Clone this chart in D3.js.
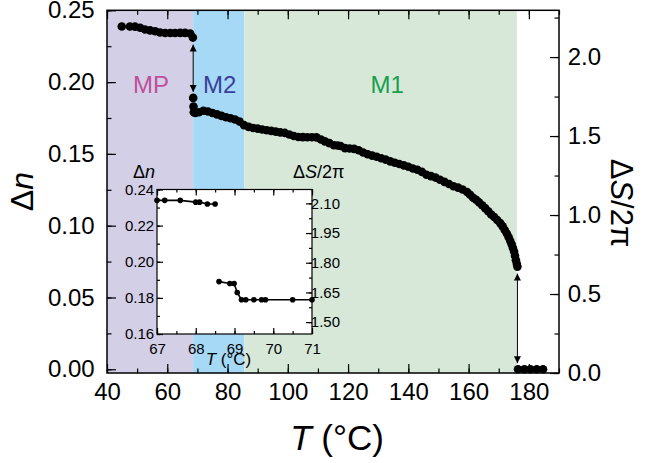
<!DOCTYPE html>
<html>
<head>
<meta charset="utf-8">
<script src="https://cdn.jsdelivr.net/npm/d3@7"></script>
<style>
  body { margin: 0; background: #fff; }
  text { font-family: 'Liberation Sans', Arial, sans-serif; fill: #000; }
</style>
</head>
<body>
<svg id="chart" width="648" height="463"></svg>
<script>
// phase bands (°C)
const phaseNames = ['MP', 'M2', 'M1'];
const phaseStart = [40, 68.6, 85.6];
const phaseEnd = [68.6, 85.6, 176];
const phaseFill = ['#d3cfe6', '#a6d9f5', '#d7e8d9'];
const phaseText = ['#c0509a', '#3a3f9a', '#18a04e'];

// main series: temperature and birefringence
const temps = [44.9, 47.6, 49.3, 51, 52.6, 54.3, 56, 57.6, 59.3, 61, 62.6, 64.3, 65.9, 67.6, 68.5,
  68.6, 68.7, 68.8, 69.3, 70.5, 72, 73.5, 75, 76.5, 78, 79.5, 81, 82.5, 84, 85.5, 87, 88.5,
  90, 91.5, 93, 94.5, 96, 97.5, 99, 100.5, 102, 103.5, 105, 106.5, 108, 109.5, 111, 112.3,
  113.8, 115.3, 116.5, 117.5, 119, 120.5, 122, 123.5, 125, 126.5, 128, 129.5, 131, 132.5,
  134, 135.5, 137, 138.5, 140, 141.5, 143, 144.5, 146, 147.5, 149, 150.5, 152, 153.5, 155,
  156.5, 158, 159.5, 160.5, 161.5, 162.5, 163.5, 164.5, 165.5, 166.5, 167.5, 168.5, 169.5,
  170.5, 171.3, 172, 172.7, 173.3, 173.8, 174.3, 174.7, 175.1, 175.4, 175.7, 176, 176.2];
const deltaN = [0.2387, 0.2387, 0.2386, 0.2378, 0.2366, 0.236, 0.2354, 0.2345, 0.2342, 0.2342,
  0.2342, 0.2343, 0.2343, 0.2338, 0.231,
  0.189, 0.183, 0.179, 0.1785, 0.179, 0.180, 0.1795, 0.1785, 0.1775, 0.1765, 0.1755, 0.1748,
  0.174, 0.1725, 0.170, 0.1688, 0.168, 0.1676, 0.167, 0.1665, 0.166, 0.1655, 0.165, 0.1646,
  0.1635, 0.1625, 0.1618, 0.1617, 0.1616, 0.1616, 0.1615, 0.160, 0.1587, 0.1575, 0.156, 0.1558,
  0.1555, 0.154, 0.1538, 0.1535, 0.1525, 0.151, 0.1497, 0.1488, 0.148, 0.147, 0.146, 0.1448,
  0.1438, 0.143, 0.142, 0.141, 0.1398, 0.139, 0.1375, 0.1355, 0.1345, 0.1335, 0.132, 0.1305,
  0.129, 0.1275, 0.1265, 0.1252, 0.1235, 0.1215, 0.1195, 0.118, 0.1162, 0.1142, 0.1122, 0.110,
  0.1078, 0.106, 0.104, 0.1018, 0.0995, 0.097, 0.0945, 0.092, 0.0895, 0.087, 0.0845, 0.082,
  0.079, 0.076, 0.0735, 0.0715];
// isotropic points after the second jump
const isoTemps = [176.4, 178.5, 180.5, 182.6, 184.7];
const isoDeltaN = [0, 0, 0, 0, 0];

// inset: the first jump in detail
const insetTemps = [67.0, 67.2, 67.6, 68.0, 68.1, 68.3, 68.5];
const insetDeltaN = [0.234, 0.234, 0.234, 0.233, 0.233, 0.232, 0.232];
const insetTemps2 = [68.6, 68.88, 68.99, 69.07, 69.18, 69.29, 69.5, 69.7, 69.8, 70.5, 71.0];
const insetDeltaN2 = [0.189, 0.188, 0.188, 0.183, 0.179, 0.179, 0.179, 0.179, 0.179, 0.179, 0.179];

// tick values
const xTicks = [40, 60, 80, 100, 120, 140, 160, 180];
const yTicks = [0, 0.05, 0.10, 0.15, 0.20, 0.25];
const yRightTicks = [0, 0.5, 1.0, 1.5, 2.0];
const insetXTicks = [67, 68, 69, 70, 71];
const insetYTicks = [0.16, 0.18, 0.20, 0.22, 0.24];
const insetYRightTicks = [1.50, 1.65, 1.80, 1.95, 2.10];

const svg = d3.select('#chart');
const frame = { left: 107, right: 559, top: 10.3, bottom: 373 };

const x = d3.scaleLinear().domain([40, 190]).range([frame.left, frame.right]);
const y = d3.scaleLinear().domain([-0.0026, 0.25]).range([frame.bottom, frame.top]);
const yR = d3.scaleLinear().domain([0, 2.296]).range([frame.bottom, frame.top]);

// phase backgrounds
phaseNames.forEach((name, i) => {
  svg.append('rect')
    .attr('x', x(phaseStart[i]))
    .attr('y', frame.top)
    .attr('width', x(phaseEnd[i]) - x(phaseStart[i]))
    .attr('height', frame.bottom - frame.top)
    .style('fill', phaseFill[i]);
  svg.append('text')
    .attr('x', name === 'M1' ? x(133) : (x(phaseStart[i]) + x(phaseEnd[i])) / 2 + 1)
    .attr('y', 93)
    .style('text-anchor', 'middle')
    .style('font-size', '24px')
    .style('fill', phaseText[i])
    .text(name);
});

function addAxis(gen, tx, ty, major, minor, len, fmt, fontSize, pad) {
  const g = svg.append('g').attr('transform', `translate(${tx},${ty})`);
  g.call(gen.tickValues(minor).tickSize(len / 2).tickFormat(''));
  const g2 = svg.append('g').attr('transform', `translate(${tx},${ty})`);
  g2.call(gen.tickValues(major).tickSize(len).tickFormat(fmt).tickPadding(pad));
  [g, g2].forEach(a => {
    a.select('.domain').remove();
    a.selectAll('line').attr('stroke', '#000').attr('stroke-width', 1.2);
    a.selectAll('text').style('font-size', fontSize).style('font-family', "'Liberation Sans', Arial, sans-serif");
  });
  return g2;
}

// main axes (ticks inward)
const minorX = d3.range(40, 191, 10);
const minorY = d3.range(0, 0.251, 0.025);
const minorYR = d3.range(0, 2.26, 0.25);
addAxis(d3.axisTop(x), 0, frame.bottom, xTicks, minorX, 9, d3.format('d'), '24px', -36);
addAxis(d3.axisBottom(x), 0, frame.top, xTicks, minorX, 9, '', '24px', 3);
addAxis(d3.axisRight(y), frame.left, 0, yTicks, minorY, 9, d3.format('.2f'), '24px', -68);
addAxis(d3.axisLeft(yR), frame.right, 0, yRightTicks, minorYR, 9, d3.format('.1f'), '24px', -51);

svg.append('rect')
  .attr('x', frame.left).attr('y', frame.top)
  .attr('width', frame.right - frame.left).attr('height', frame.bottom - frame.top)
  .style('fill', 'none').style('stroke', '#000').style('stroke-width', 1.5);

// data points
const mainPts = temps.map((t, i) => ({ t: t, v: deltaN[i] }))
  .concat(isoTemps.map((t, i) => ({ t: t, v: isoDeltaN[i] })));
svg.append('g').selectAll('circle')
  .data(mainPts)
  .enter().append('circle')
  .attr('cx', d => x(d.t))
  .attr('cy', d => y(d.v))
  .attr('r', 4.3)
  .style('fill', '#000');

// arrows marking the two jumps
const defs = svg.append('defs');
defs.append('marker')
  .attr('id', 'head')
  .attr('viewBox', '0 0 10 10')
  .attr('refX', 10).attr('refY', 5)
  .attr('markerWidth', 7).attr('markerHeight', 9)
  .attr('markerUnits', 'userSpaceOnUse')
  .attr('orient', 'auto-start-reverse')
  .append('path').attr('d', 'M0,0 L10,5 L0,10 Z').style('fill', '#000');

function jumpArrow(t, vTop, vBottom) {
  svg.append('line')
    .attr('x1', x(t)).attr('x2', x(t))
    .attr('y1', y(vTop) + 7).attr('y2', y(vBottom) - 6)
    .style('stroke', '#000').style('stroke-width', 1)
    .attr('marker-start', 'url(#head)')
    .attr('marker-end', 'url(#head)');
}
jumpArrow(68.6, 0.231, 0.189);
jumpArrow(176.2, 0.0715, 0);

// axis titles
svg.append('text')
  .attr('transform', `translate(33,${(frame.top + frame.bottom) / 2}) rotate(-90)`)
  .style('text-anchor', 'middle').style('font-size', '32px')
  .html('Δ<tspan font-style="italic">n</tspan>');
svg.append('text')
  .attr('x', 337).attr('y', 450)
  .style('text-anchor', 'middle').style('font-size', '35px')
  .html('<tspan font-style="italic">T</tspan> (°C)');
svg.append('text')
  .attr('transform', 'translate(611,203) rotate(90)')
  .style('text-anchor', 'middle').style('font-size', '31px')
  .html('Δ<tspan font-style="italic">S</tspan>/2π');

// inset
const inset = { left: 157, right: 312, top: 189.5, bottom: 334 };
const ix = d3.scaleLinear().domain([67, 71]).range([inset.left, inset.right]);
const iy = d3.scaleLinear().domain([0.16, 0.24]).range([inset.bottom, inset.top]);
const iyR = d3.scaleLinear().domain([1.44, 2.17]).range([inset.bottom, inset.top]);

svg.append('rect')
  .attr('x', inset.left).attr('y', inset.top)
  .attr('width', inset.right - inset.left).attr('height', inset.bottom - inset.top)
  .style('fill', '#fff');

addAxis(d3.axisTop(ix), 0, inset.bottom, insetXTicks, d3.range(67, 71.01, 0.5), 6, d3.format('d'), '15px', -26);
addAxis(d3.axisBottom(ix), 0, inset.top, insetXTicks, d3.range(67, 71.01, 0.5), 6, '', '15px', 3);
addAxis(d3.axisRight(iy), inset.left, 0, insetYTicks, d3.range(0.16, 0.2401, 0.01), 6, d3.format('.2f'), '15px', -38);
addAxis(d3.axisLeft(iyR), inset.right, 0, insetYRightTicks, d3.range(1.50, 2.11, 0.075), 6, d3.format('.2f'), '15px', -34);

svg.append('rect')
  .attr('x', inset.left).attr('y', inset.top)
  .attr('width', inset.right - inset.left).attr('height', inset.bottom - inset.top)
  .style('fill', 'none').style('stroke', '#000').style('stroke-width', 1.2);

const insetLine = d3.line().x(d => ix(d.t)).y(d => iy(d.v));
[[insetTemps, insetDeltaN], [insetTemps2, insetDeltaN2]].forEach(([ts, vs]) => {
  const pts = ts.map((t, i) => ({ t: t, v: vs[i] }));
  svg.append('path')
    .datum(pts)
    .attr('d', insetLine)
    .style('fill', 'none').style('stroke', '#000').style('stroke-width', 1.6);
  svg.append('g').selectAll('circle')
    .data(pts)
    .enter().append('circle')
    .attr('cx', d => ix(d.t))
    .attr('cy', d => iy(d.v))
    .attr('r', 2.8)
    .style('fill', '#000');
});

svg.append('text')
  .attr('x', 133).attr('y', 178).style('font-size', '18px')
  .html('Δ<tspan font-style="italic">n</tspan>');
svg.append('text')
  .attr('x', 293).attr('y', 178).style('font-size', '18px')
  .html('Δ<tspan font-style="italic">S</tspan>/2π');
svg.append('text')
  .attr('x', (inset.left + inset.right) / 2 - 6).attr('y', 365)
  .style('text-anchor', 'middle').style('font-size', '17px')
  .html('<tspan font-style="italic">T</tspan> (°C)');
</script>
</body>
</html>
